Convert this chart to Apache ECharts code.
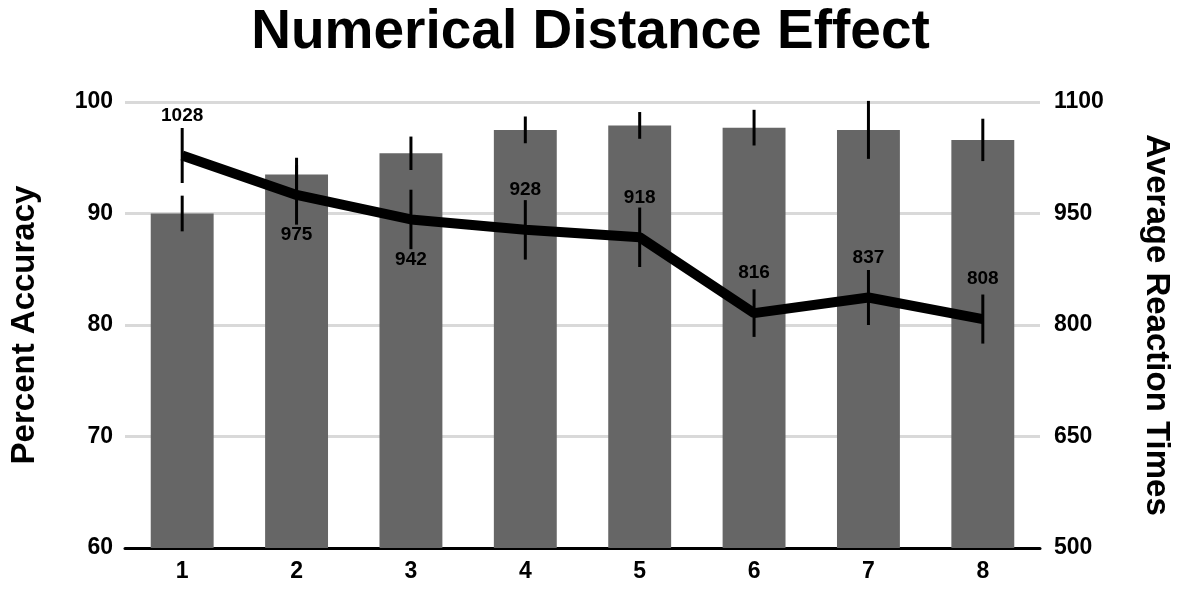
<!DOCTYPE html>
<html lang="en">
<head>
<meta charset="UTF-8">
<title>Numerical Distance Effect</title>
<style>
html,body{margin:0;padding:0;background:#fff;}
#main{width:1181px;height:593px;}
</style>
</head>
<body>
<div id="main"></div>
<script src="https://cdn.jsdelivr.net/npm/echarts@6/dist/echarts.min.js"></script>
<script>
var categories = ['1', '2', '3', '4', '5', '6', '7', '8'];
var accuracy = [90, 93.5, 95.4, 97.5, 97.9, 97.7, 97.5, 96.6];
var accuracyErr = [1.6, 1.5, 1.5, 1.2, 1.2, 1.6, 2.6, 1.9];
var reaction = [1028, 975, 942, 928, 918, 816, 837, 808];
var reactionErr = [37, 40, 40, 40, 40, 32, 37, 33];
var labelPos = ['top', 'bottom', 'bottom', 'top', 'top', 'top', 'top', 'top'];

var chart = echarts.init(document.getElementById('main'));

function errData(vals, errs) {
	return vals.map(function (v, i) { return [i, v - errs[i], v + errs[i]]; });
}
function errRender(params, api) {
	var lo = api.coord([api.value(0), api.value(1)]);
	var hi = api.coord([api.value(0), api.value(2)]);
	return {
		type: 'line',
		shape: {x1: lo[0], y1: lo[1], x2: hi[0], y2: hi[1]},
		style: {stroke: '#000', lineWidth: 3}
	};
}

var tickFont = {color: '#000', fontSize: 23, fontWeight: 'bold', fontFamily: 'Liberation Sans', margin: 12};
var nameFont = {color: '#000', fontSize: 33, fontWeight: 'bold', fontFamily: 'Liberation Sans'};

chart.setOption({
	animation: false,
	title: {
		text: 'Numerical Distance Effect',
		left: 'center', top: 0,
		textStyle: {color: '#000', fontSize: 55, fontWeight: 'bold', fontFamily: 'Liberation Sans'}
	},
	grid: {left: 122, right: 141, top: 102, bottom: 45},
	xAxis: {
		type: 'category', data: categories,
		axisLine: {lineStyle: {color: '#000', width: 3}},
		axisTick: {show: false},
		axisLabel: tickFont
	},
	yAxis: [{
		type: 'value', min: 60, max: 100, interval: 10,
		name: 'Percent Accuracy', nameLocation: 'middle', nameGap: 84, nameTextStyle: nameFont,
		axisLabel: tickFont,
		splitLine: {lineStyle: {color: '#d9d9d9', width: 3}}
	}, {
		type: 'value', min: 500, max: 1100, interval: 150,
		name: 'Average Reaction Times', nameLocation: 'middle', nameGap: 100, nameRotate: -90,
		nameTextStyle: nameFont,
		axisLabel: {color: '#000', fontSize: 23, fontWeight: 'bold', fontFamily: 'Liberation Sans', margin: 14,
			formatter: function (v) { return String(v); }},
		splitLine: {show: false}
	}],
	series: [{
		type: 'bar', data: accuracy, barWidth: '55%',
		itemStyle: {color: '#666666'}
	}, {
		type: 'custom', data: errData(accuracy, accuracyErr), renderItem: errRender, z: 3
	}, {
		type: 'line', yAxisIndex: 1, z: 4,
		data: reaction.map(function (v, i) {
			return {value: v, label: {position: labelPos[i]}};
		}),
		symbol: 'circle', symbolSize: 1, showSymbol: true,
		itemStyle: {color: '#000'},
		lineStyle: {color: '#000', width: 10},
		label: {show: true, distance: 30, color: '#000', fontSize: 19, fontWeight: 'bold', fontFamily: 'Liberation Sans'}
	}, {
		type: 'custom', yAxisIndex: 1, z: 5, data: errData(reaction, reactionErr), renderItem: errRender
	}]
});
</script>
</body>
</html>
